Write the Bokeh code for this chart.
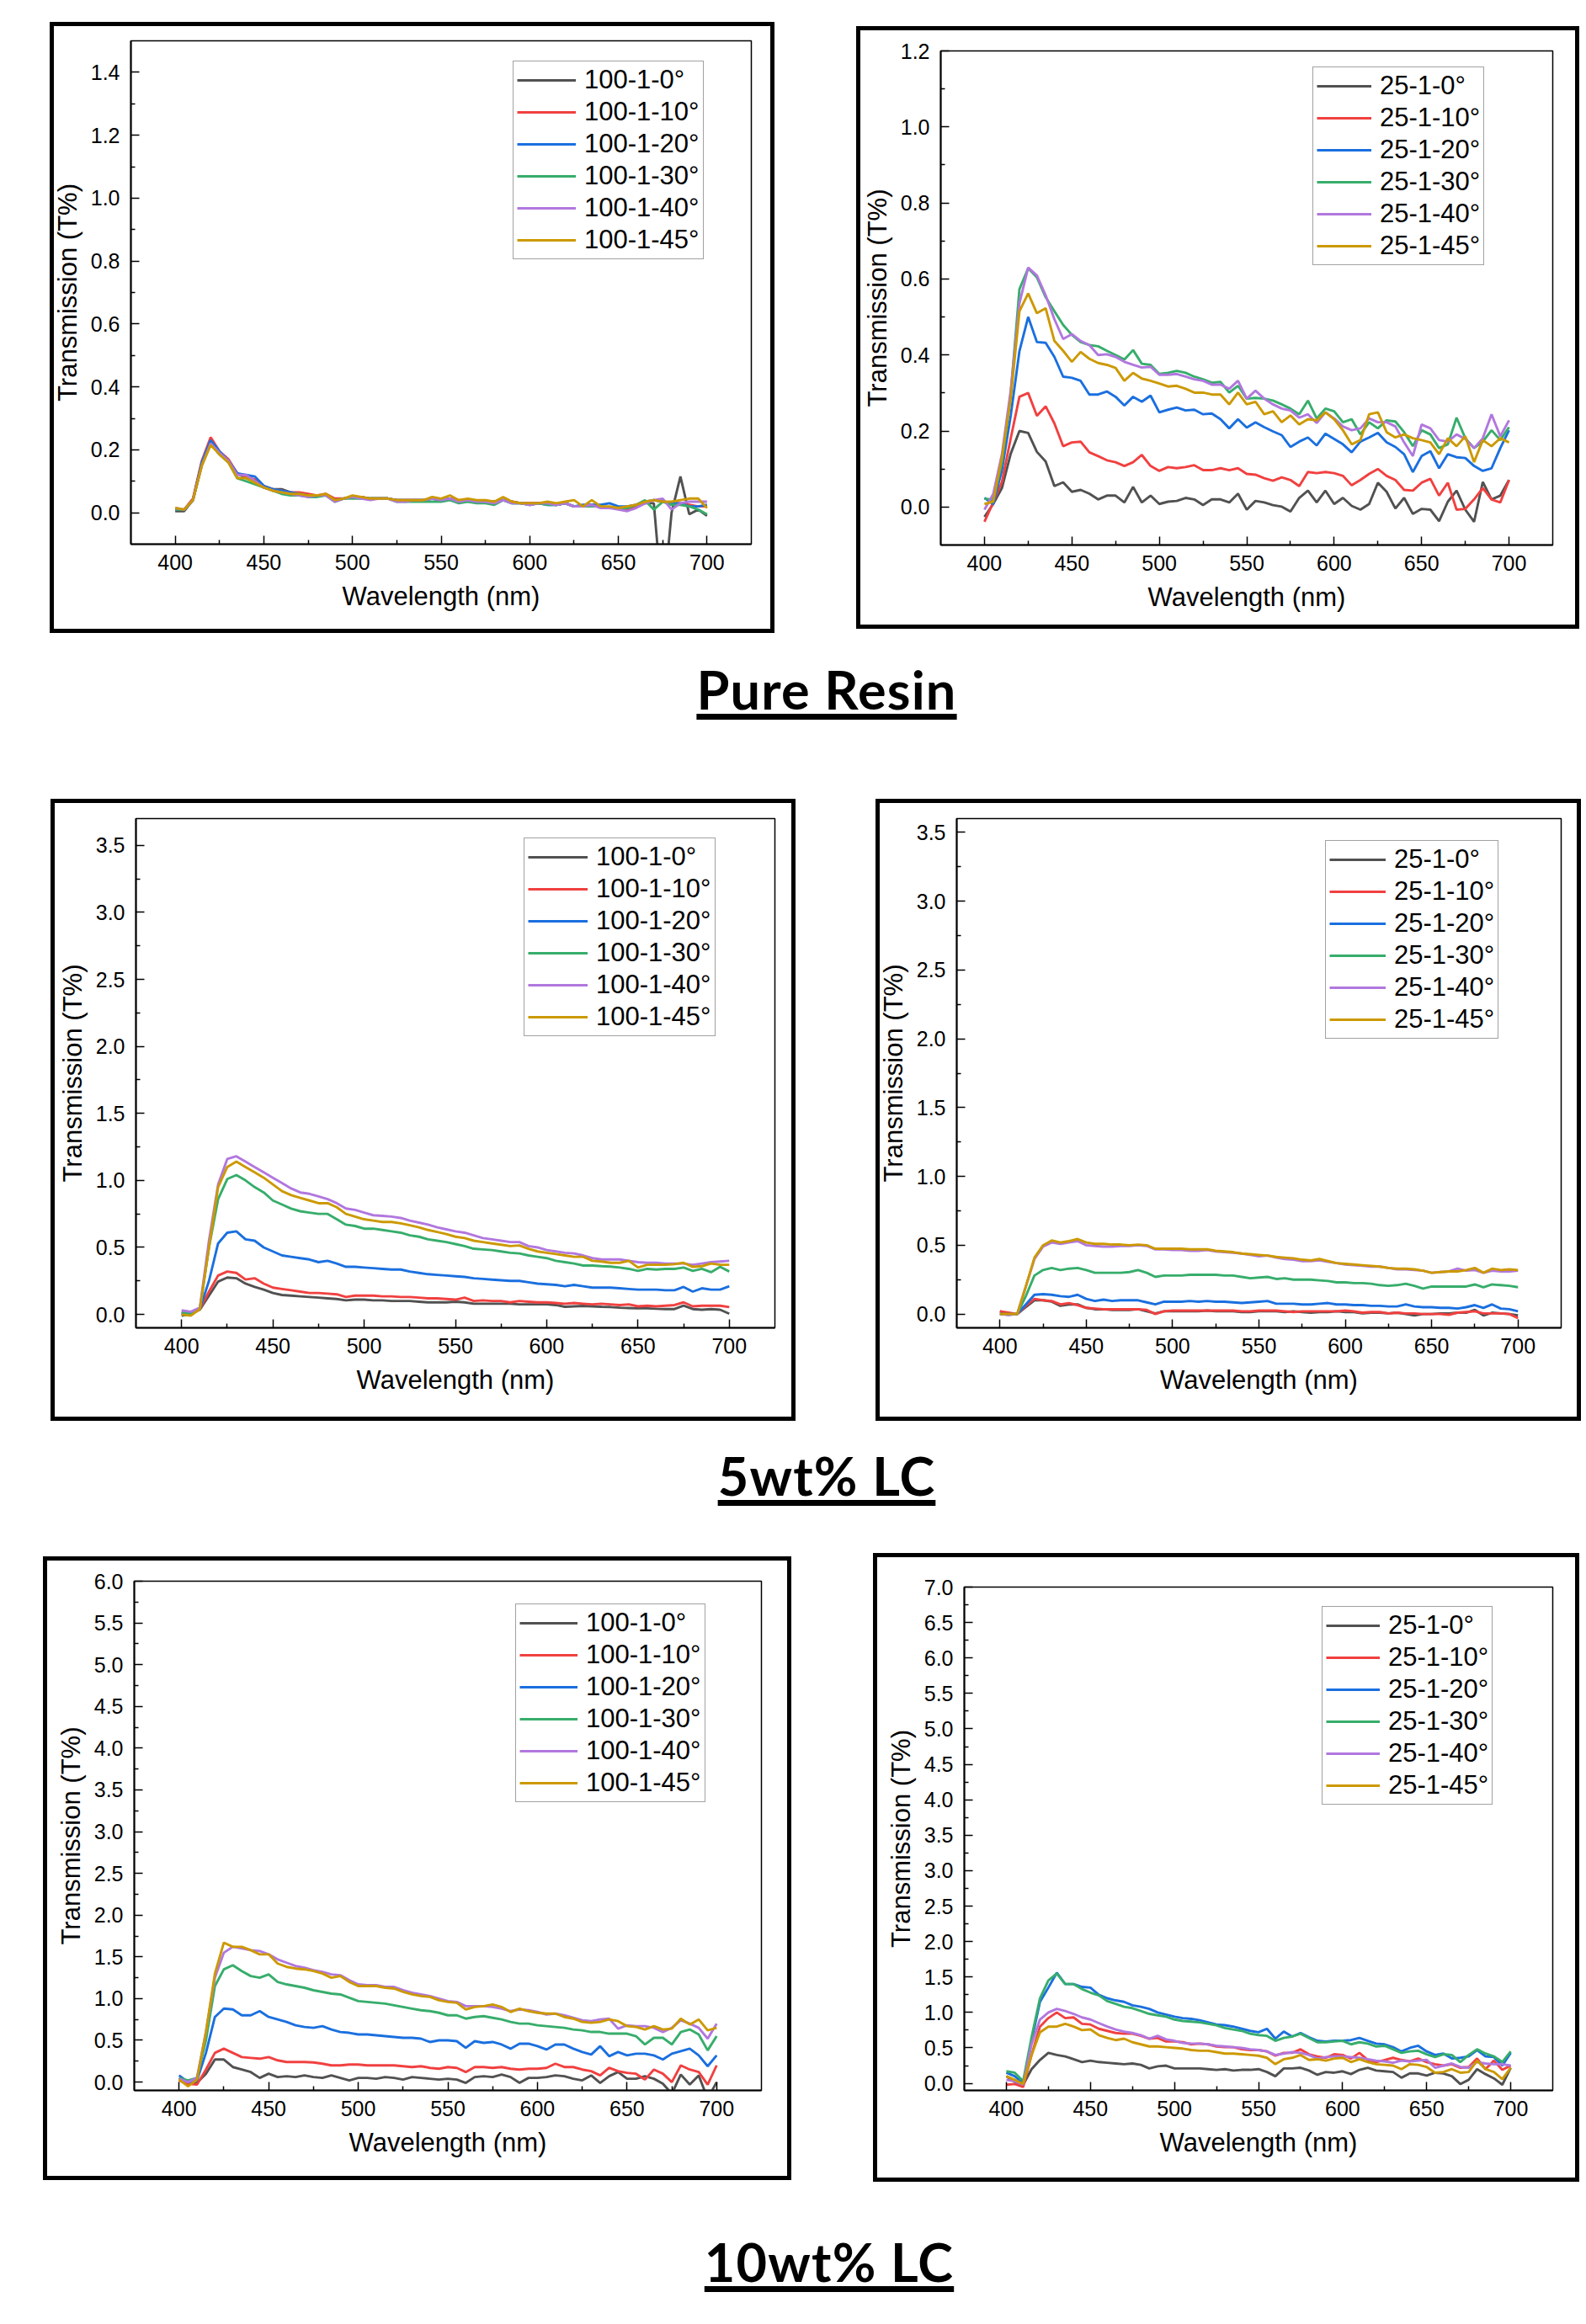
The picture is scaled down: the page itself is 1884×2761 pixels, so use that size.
from bokeh.plotting import figure
from bokeh.models import Range1d, FixedTicker, PrintfTickFormatter, Legend, LegendItem, Div, Spacer
from bokeh.layouts import row, column
from bokeh.embed import file_html
from bokeh.resources import INLINE

wavelength = list(range(400, 701, 5))
angles = ["0°", "10°", "20°", "30°", "40°", "45°"]
colors = ["#515151", "#F14040", "#1A6FDF", "#37AD6B", "#B177DE", "#CC9900"]
x_ticks = [400, 450, 500, 550, 600, 650, 700]
x_minor = [425, 475, 525, 575, 625, 675]

# ---------------- Pure resin, 100-1 ----------------
pr100_00 = [0.005, 0.005, 0.04, 0.16, 0.225, 0.19, 0.165, 0.125, 0.11, 0.10,
            0.08, 0.075, 0.075, 0.065, 0.06, 0.055, 0.055, 0.055, 0.04, 0.045,
            0.05, 0.05, 0.045, 0.045, 0.045, 0.04, 0.04, 0.04, 0.04, 0.045,
            0.04, 0.045, 0.035, 0.04, 0.035, 0.035, 0.035, 0.04, 0.035, 0.03,
            0.03, 0.03, 0.03, 0.025, 0.03, 0.02, 0.02, 0.025, 0.02, 0.015,
            0.015, 0.01, 0.02, 0.03, 0.03, -0.3, 0.0, 0.115, -0.005, 0.01,
            -0.01]
pr100_10 = [0.01, 0.01, 0.045, 0.165, 0.24, 0.195, 0.17, 0.125, 0.115, 0.105,
            0.085, 0.075, 0.07, 0.065, 0.065, 0.06, 0.055, 0.06, 0.045, 0.045,
            0.05, 0.05, 0.045, 0.045, 0.045, 0.04, 0.04, 0.04, 0.04, 0.045,
            0.04, 0.045, 0.04, 0.04, 0.035, 0.035, 0.035, 0.04, 0.035, 0.03,
            0.03, 0.03, 0.03, 0.025, 0.03, 0.02, 0.02, 0.025, 0.02, 0.015,
            0.015, 0.01, 0.02, 0.03, 0.04, 0.035, 0.03, 0.03, 0.025, 0.02,
            0.02]
pr100_20 = [0.01, 0.01, 0.04, 0.16, 0.23, 0.195, 0.165, 0.125, 0.12, 0.115,
            0.085, 0.075, 0.07, 0.065, 0.06, 0.055, 0.055, 0.055, 0.04, 0.045,
            0.05, 0.045, 0.045, 0.045, 0.045, 0.04, 0.04, 0.04, 0.04, 0.045,
            0.04, 0.045, 0.035, 0.04, 0.035, 0.035, 0.035, 0.04, 0.03, 0.03,
            0.025, 0.03, 0.025, 0.025, 0.03, 0.02, 0.025, 0.025, 0.025, 0.03,
            0.02, 0.02, 0.025, 0.035, 0.04, 0.035, 0.03, 0.03, 0.02, 0.02,
            0.025]
pr100_30 = [0.01, 0.01, 0.04, 0.15, 0.22, 0.185, 0.16, 0.11, 0.10, 0.09,
            0.08, 0.07, 0.06, 0.055, 0.055, 0.05, 0.05, 0.055, 0.035, 0.045,
            0.045, 0.045, 0.045, 0.045, 0.045, 0.035, 0.035, 0.035, 0.035, 0.035,
            0.035, 0.04, 0.03, 0.035, 0.03, 0.03, 0.025, 0.04, 0.03, 0.03,
            0.025, 0.03, 0.025, 0.025, 0.03, 0.02, 0.02, 0.02, 0.02, 0.015,
            0.015, 0.015, 0.025, 0.04, 0.01, 0.035, 0.025, 0.025, 0.02, 0.01,
            -0.005]
pr100_40 = [0.015, 0.01, 0.04, 0.15, 0.22, 0.19, 0.165, 0.12, 0.12, 0.10,
            0.08, 0.07, 0.065, 0.06, 0.055, 0.05, 0.055, 0.055, 0.035, 0.045,
            0.05, 0.045, 0.04, 0.045, 0.045, 0.035, 0.035, 0.04, 0.04, 0.045,
            0.04, 0.045, 0.035, 0.04, 0.035, 0.035, 0.03, 0.04, 0.03, 0.03,
            0.025, 0.03, 0.03, 0.025, 0.03, 0.02, 0.02, 0.025, 0.015, 0.015,
            0.01, 0.005, 0.015, 0.03, 0.04, 0.045, 0.01, 0.03, 0.035, 0.035,
            0.035]
pr100_45 = [0.015, 0.01, 0.04, 0.15, 0.215, 0.185, 0.16, 0.11, 0.11, 0.095,
            0.08, 0.07, 0.065, 0.06, 0.06, 0.055, 0.055, 0.06, 0.04, 0.045,
            0.055, 0.05, 0.045, 0.045, 0.045, 0.04, 0.04, 0.04, 0.04, 0.05,
            0.045, 0.055, 0.04, 0.045, 0.04, 0.04, 0.035, 0.05, 0.035, 0.03,
            0.03, 0.03, 0.035, 0.03, 0.035, 0.04, 0.02, 0.04, 0.02, 0.02,
            0.015, 0.02, 0.025, 0.035, 0.04, 0.035, 0.035, 0.04, 0.045, 0.045,
            0.015]

# ---------------- Pure resin, 25-1 ----------------
pr25_00 = [-0.026, 0.008, 0.05, 0.14, 0.20, 0.195, 0.145, 0.12, 0.055, 0.065,
           0.04, 0.045, 0.035, 0.02, 0.03, 0.03, 0.012, 0.053, 0.012, 0.03,
           0.008, 0.014, 0.016, 0.024, 0.02, 0.005, 0.02, 0.02, 0.012, 0.035,
           -0.007, 0.016, 0.012, 0.005, 0.001, -0.012, 0.024, 0.043, 0.012, 0.043,
           0.008, 0.024, 0.003, -0.007, 0.008, 0.064, 0.04, -0.004, 0.024, -0.018,
           -0.005, -0.007, -0.037, 0.014, 0.043, -0.007, -0.039, 0.066, 0.02, 0.03,
           0.071]
pr25_10 = [-0.039, 0.012, 0.066, 0.18, 0.29, 0.30, 0.24, 0.265, 0.22, 0.16,
           0.17, 0.172, 0.144, 0.134, 0.123, 0.118, 0.108, 0.118, 0.137, 0.108,
           0.095, 0.105, 0.102, 0.105, 0.11, 0.097, 0.097, 0.102, 0.097, 0.102,
           0.087, 0.085, 0.076, 0.069, 0.078, 0.071, 0.055, 0.092, 0.089, 0.092,
           0.089, 0.082, 0.057, 0.071, 0.087, 0.10, 0.082, 0.071, 0.045, 0.043,
           0.064, 0.074, 0.03, 0.064, -0.007, -0.005, 0.02, 0.05, 0.02, 0.012,
           0.071]
pr25_20 = [0.024, 0.008, 0.097, 0.24, 0.41, 0.50, 0.434, 0.432, 0.395, 0.343,
           0.34, 0.332, 0.296, 0.296, 0.304, 0.29, 0.267, 0.29, 0.277, 0.293,
           0.249, 0.256, 0.262, 0.254, 0.256, 0.244, 0.246, 0.231, 0.207, 0.231,
           0.209, 0.223, 0.21, 0.199, 0.189, 0.158, 0.172, 0.183, 0.162, 0.193,
           0.179, 0.165, 0.144, 0.172, 0.183, 0.195, 0.17, 0.158, 0.139, 0.092,
           0.134, 0.147, 0.102, 0.139, 0.131, 0.129, 0.108, 0.095, 0.102, 0.155,
           0.202]
pr25_30 = [0.022, 0.019, 0.118, 0.296, 0.573, 0.628, 0.604, 0.552, 0.515, 0.479,
           0.453, 0.434, 0.426, 0.423, 0.411, 0.40, 0.388, 0.413, 0.377, 0.374,
           0.35, 0.353, 0.358, 0.353, 0.343, 0.336, 0.327, 0.329, 0.301, 0.319,
           0.285, 0.287, 0.285, 0.28, 0.27, 0.259, 0.244, 0.28, 0.233, 0.259,
           0.252, 0.223, 0.231, 0.191, 0.223, 0.207, 0.228, 0.225, 0.197, 0.16,
           0.202, 0.191, 0.155, 0.165, 0.235, 0.181, 0.155, 0.172, 0.202, 0.176,
           0.21]
pr25_40 = [-0.007, 0.034, 0.139, 0.306, 0.536, 0.63, 0.609, 0.557, 0.494, 0.442,
           0.455, 0.437, 0.426, 0.40, 0.402, 0.395, 0.382, 0.374, 0.367, 0.369,
           0.348, 0.348, 0.35, 0.343, 0.336, 0.332, 0.322, 0.322, 0.311, 0.332,
           0.285, 0.306, 0.285, 0.27, 0.259, 0.254, 0.235, 0.244, 0.221, 0.249,
           0.233, 0.212, 0.202, 0.207, 0.233, 0.223, 0.223, 0.212, 0.17, 0.134,
           0.217, 0.207, 0.176, 0.172, 0.191, 0.179, 0.155, 0.181, 0.244, 0.186,
           0.228]
pr25_45 = [0.008, 0.014, 0.129, 0.285, 0.515, 0.562, 0.51, 0.523, 0.437, 0.411,
           0.382, 0.408, 0.39, 0.379, 0.374, 0.366, 0.332, 0.353, 0.338, 0.332,
           0.325, 0.317, 0.319, 0.311, 0.301, 0.301, 0.296, 0.296, 0.27, 0.301,
           0.27, 0.277, 0.244, 0.252, 0.223, 0.241, 0.217, 0.231, 0.228, 0.249,
           0.231, 0.202, 0.165, 0.176, 0.244, 0.249, 0.197, 0.183, 0.191, 0.181,
           0.176, 0.17, 0.139, 0.181, 0.16, 0.186, 0.118, 0.176, 0.16, 0.181,
           0.17]

# ---------------- 5wt% LC, 100-1 ----------------
lc5_100_00 = [-0.01, 0.005, 0.035, 0.14, 0.245, 0.275, 0.27, 0.23, 0.205, 0.185,
              0.16, 0.145, 0.14, 0.135, 0.13, 0.125, 0.12, 0.115, 0.105, 0.11,
              0.11, 0.105, 0.105, 0.10, 0.10, 0.10, 0.095, 0.09, 0.09, 0.09,
              0.095, 0.09, 0.08, 0.08, 0.08, 0.08, 0.08, 0.075, 0.075, 0.075,
              0.075, 0.07, 0.057, 0.06, 0.063, 0.06, 0.057, 0.055, 0.05, 0.048,
              0.045, 0.045, 0.042, 0.04, 0.04, 0.065, 0.04, 0.035, 0.04, 0.035,
              0.005]
lc5_100_10 = [0.01, 0.0, 0.04, 0.17, 0.29, 0.32, 0.31, 0.26, 0.27, 0.23,
              0.20, 0.19, 0.18, 0.17, 0.16, 0.16, 0.155, 0.15, 0.13, 0.14,
              0.14, 0.14, 0.135, 0.135, 0.13, 0.13, 0.125, 0.12, 0.12, 0.115,
              0.11, 0.125, 0.10, 0.105, 0.10, 0.10, 0.09, 0.10, 0.095, 0.09,
              0.09, 0.085, 0.08, 0.085, 0.08, 0.075, 0.08, 0.075, 0.07, 0.075,
              0.06, 0.065, 0.06, 0.065, 0.07, 0.09, 0.06, 0.065, 0.065, 0.065,
              0.055]
lc5_100_20 = [0.01, 0.005, 0.04, 0.25, 0.53, 0.61, 0.62, 0.56, 0.55, 0.50,
              0.47, 0.44, 0.43, 0.42, 0.41, 0.39, 0.40, 0.38, 0.355, 0.355,
              0.35, 0.345, 0.34, 0.335, 0.335, 0.32, 0.31, 0.30, 0.295, 0.29,
              0.285, 0.28, 0.27, 0.265, 0.26, 0.255, 0.25, 0.25, 0.24, 0.23,
              0.225, 0.22, 0.21, 0.22, 0.21, 0.20, 0.20, 0.20, 0.195, 0.19,
              0.185, 0.185, 0.185, 0.18, 0.18, 0.205, 0.17, 0.195, 0.185, 0.185,
              0.21]
lc5_100_30 = [0.02, 0.0, 0.04, 0.50, 0.86, 1.01, 1.04, 1.0, 0.95, 0.91,
              0.85, 0.82, 0.79, 0.77, 0.76, 0.75, 0.75, 0.71, 0.67, 0.66,
              0.64, 0.64, 0.63, 0.62, 0.61, 0.59, 0.58, 0.56, 0.55, 0.54,
              0.525, 0.51, 0.49, 0.485, 0.48, 0.47, 0.46, 0.455, 0.44, 0.43,
              0.42, 0.40, 0.39, 0.38, 0.365, 0.365, 0.36, 0.357, 0.35, 0.34,
              0.325, 0.34, 0.335, 0.34, 0.34, 0.35, 0.325, 0.34, 0.315, 0.355,
              0.32]
lc5_100_40 = [0.03, 0.02, 0.05, 0.55, 0.97, 1.16, 1.18, 1.14, 1.10, 1.06,
              1.02, 0.98, 0.94, 0.91, 0.90, 0.88, 0.86, 0.83, 0.79, 0.78,
              0.76, 0.74, 0.735, 0.73, 0.72, 0.70, 0.685, 0.67, 0.65, 0.635,
              0.62, 0.61, 0.59, 0.57, 0.56, 0.55, 0.54, 0.54, 0.51, 0.50,
              0.48, 0.47, 0.46, 0.455, 0.44, 0.42, 0.41, 0.41, 0.41, 0.40,
              0.39, 0.385, 0.385, 0.38, 0.38, 0.38, 0.37, 0.38, 0.39, 0.395,
              0.40]
lc5_100_45 = [0.0, -0.01, 0.04, 0.50, 0.95, 1.10, 1.14, 1.10, 1.06, 1.02,
              0.97, 0.92, 0.89, 0.87, 0.85, 0.83, 0.83, 0.80, 0.75, 0.73,
              0.71, 0.70, 0.69, 0.69, 0.68, 0.665, 0.65, 0.63, 0.615, 0.60,
              0.58, 0.57, 0.55, 0.54, 0.53, 0.52, 0.51, 0.515, 0.49, 0.47,
              0.46, 0.45, 0.44, 0.43, 0.43, 0.40, 0.395, 0.385, 0.385, 0.40,
              0.35, 0.37, 0.37, 0.37, 0.375, 0.385, 0.355, 0.36, 0.38, 0.37,
              0.37]

# ---------------- 5wt% LC, 25-1 ----------------
lc5_25_00 = [0.02, 0.0, 0.0, 0.05, 0.10, 0.10, 0.09, 0.06, 0.07, 0.07,
             0.045, 0.035, 0.035, 0.03, 0.03, 0.03, 0.035, 0.02, 0.005, 0.02,
             0.02, 0.02, 0.02, 0.02, 0.025, 0.02, 0.02, 0.02, 0.015, 0.015,
             0.02, 0.02, 0.02, 0.015, 0.02, 0.015, 0.01, 0.015, 0.015, 0.02,
             0.015, 0.015, 0.005, 0.01, 0.01, 0.005, 0.01, 0.0, -0.01, 0.0,
             0.0, 0.005, 0.005, 0.01, 0.01, 0.03, -0.01, 0.01, 0.005, 0.0,
             -0.01]
lc5_25_10 = [0.02, 0.01, 0.0, 0.06, 0.11, 0.10, 0.095, 0.07, 0.08, 0.065,
             0.045, 0.04, 0.035, 0.035, 0.035, 0.035, 0.035, 0.03, 0.0, 0.02,
             0.025, 0.025, 0.025, 0.025, 0.025, 0.025, 0.025, 0.025, 0.02, 0.02,
             0.025, 0.025, 0.025, 0.02, 0.015, 0.02, 0.02, 0.02, 0.02, 0.02,
             0.025, 0.02, 0.01, 0.015, 0.015, 0.005, 0.01, 0.005, 0.005, 0.0,
             0.0, 0.0, -0.005, 0.01, 0.015, 0.02, 0.005, 0.005, 0.005, 0.0,
             -0.03]
lc5_25_20 = [0.0, -0.005, 0.0, 0.07, 0.14, 0.145, 0.14, 0.13, 0.125, 0.14,
             0.11, 0.095, 0.105, 0.095, 0.10, 0.10, 0.10, 0.085, 0.07, 0.09,
             0.09, 0.09, 0.095, 0.09, 0.095, 0.09, 0.09, 0.085, 0.08, 0.085,
             0.09, 0.095, 0.075, 0.075, 0.075, 0.07, 0.07, 0.075, 0.08, 0.07,
             0.07, 0.065, 0.065, 0.06, 0.06, 0.055, 0.055, 0.07, 0.055, 0.05,
             0.05, 0.045, 0.045, 0.04, 0.05, 0.065, 0.045, 0.07, 0.04, 0.035,
             0.02]
lc5_25_30 = [0.0, 0.0, 0.0, 0.13, 0.28, 0.32, 0.335, 0.32, 0.33, 0.335,
             0.32, 0.30, 0.30, 0.30, 0.30, 0.305, 0.32, 0.30, 0.27, 0.28,
             0.28, 0.28, 0.285, 0.285, 0.285, 0.285, 0.28, 0.28, 0.27, 0.26,
             0.265, 0.27, 0.255, 0.26, 0.25, 0.25, 0.25, 0.245, 0.24, 0.23,
             0.23, 0.225, 0.225, 0.22, 0.21, 0.205, 0.21, 0.22, 0.205, 0.185,
             0.20, 0.20, 0.20, 0.20, 0.20, 0.215, 0.195, 0.215, 0.21, 0.205,
             0.195]
lc5_25_40 = [0.0, -0.005, 0.0, 0.20, 0.40, 0.49, 0.52, 0.51, 0.52, 0.53,
             0.50, 0.495, 0.49, 0.49, 0.495, 0.495, 0.50, 0.495, 0.47, 0.47,
             0.465, 0.465, 0.46, 0.46, 0.465, 0.455, 0.45, 0.445, 0.44, 0.43,
             0.42, 0.425, 0.41, 0.40, 0.395, 0.385, 0.385, 0.39, 0.38, 0.37,
             0.36, 0.355, 0.35, 0.345, 0.345, 0.335, 0.325, 0.325, 0.32, 0.315,
             0.30, 0.305, 0.31, 0.33, 0.315, 0.32, 0.30, 0.315, 0.31, 0.31,
             0.315]
lc5_25_45 = [0.0, 0.0, 0.0, 0.20, 0.41, 0.50, 0.535, 0.52, 0.53, 0.545,
             0.52, 0.51, 0.51, 0.505, 0.505, 0.50, 0.505, 0.50, 0.475, 0.475,
             0.475, 0.475, 0.47, 0.47, 0.47, 0.46, 0.455, 0.45, 0.44, 0.435,
             0.43, 0.425, 0.415, 0.41, 0.405, 0.395, 0.39, 0.40, 0.385, 0.37,
             0.365, 0.36, 0.355, 0.35, 0.345, 0.335, 0.33, 0.33, 0.325, 0.315,
             0.30, 0.305, 0.31, 0.31, 0.32, 0.335, 0.30, 0.33, 0.32, 0.325,
             0.32]

# ---------------- 10wt% LC, 100-1 ----------------
lc10_100_00 = [0.05, -0.02, -0.01, 0.10, 0.27, 0.27, 0.18, 0.15, 0.12, 0.05,
               0.10, 0.06, 0.07, 0.06, 0.08, 0.06, 0.05, 0.08, 0.05, 0.02,
               0.05, 0.05, 0.04, 0.06, 0.05, 0.03, 0.06, 0.05, 0.04, 0.03,
               0.04, 0.03, -0.01, 0.06, 0.07, 0.06, 0.09, 0.06, -0.01, 0.05,
               0.05, 0.06, 0.08, 0.07, 0.04, 0.02, 0.08, -0.01, 0.07, 0.12,
               0.04, 0.04, 0.07, 0.04, -0.02, -0.14, 0.09, -0.03, 0.08, -0.20,
               0.0]
lc10_100_10 = [0.02, -0.02, -0.03, 0.15, 0.35, 0.40, 0.35, 0.30, 0.29, 0.28,
               0.30, 0.26, 0.24, 0.24, 0.24, 0.235, 0.22, 0.20, 0.20, 0.21,
               0.21, 0.20, 0.20, 0.20, 0.20, 0.19, 0.18, 0.19, 0.17, 0.16,
               0.18, 0.17, 0.12, 0.18, 0.18, 0.17, 0.18, 0.16, 0.15, 0.16,
               0.16, 0.17, 0.22, 0.18, 0.18, 0.15, 0.13, 0.08, 0.17, 0.13,
               0.11, 0.10, 0.03, 0.15, 0.10, 0.0, 0.20, 0.15, 0.12, -0.03,
               0.20]
lc10_100_20 = [0.08, 0.0, 0.02, 0.35, 0.78, 0.88, 0.87, 0.80, 0.80, 0.85,
               0.78, 0.75, 0.72, 0.68, 0.66, 0.65, 0.67, 0.63, 0.60, 0.59,
               0.57, 0.57, 0.56, 0.55, 0.54, 0.53, 0.53, 0.52, 0.48, 0.50,
               0.50, 0.49, 0.41, 0.49, 0.47, 0.48, 0.45, 0.40, 0.46, 0.46,
               0.43, 0.39, 0.45, 0.45, 0.40, 0.36, 0.33, 0.43, 0.31, 0.36,
               0.32, 0.34, 0.34, 0.32, 0.27, 0.34, 0.37, 0.40, 0.32, 0.19,
               0.32]
lc10_100_30 = [0.05, 0.02, 0.05, 0.50, 1.15, 1.35, 1.40, 1.33, 1.27, 1.25,
               1.29, 1.20, 1.17, 1.15, 1.13, 1.10, 1.08, 1.06, 1.05, 1.01,
               0.97, 0.96, 0.95, 0.94, 0.92, 0.90, 0.88, 0.86, 0.85, 0.83,
               0.80, 0.80, 0.76, 0.78, 0.79, 0.77, 0.75, 0.72, 0.70, 0.70,
               0.68, 0.67, 0.66, 0.65, 0.63, 0.62, 0.60, 0.60, 0.58, 0.58,
               0.58, 0.55, 0.45, 0.53, 0.53, 0.45, 0.60, 0.63, 0.57, 0.38,
               0.55]
lc10_100_40 = [0.04, 0.0, 0.05, 0.60, 1.25, 1.55, 1.62, 1.60, 1.58, 1.57,
               1.53, 1.47, 1.43, 1.39, 1.37, 1.34, 1.32, 1.29, 1.28, 1.22,
               1.17, 1.16, 1.16, 1.14, 1.14, 1.10, 1.07, 1.05, 1.03, 1.00,
               0.97, 0.96, 0.91, 0.91, 0.91, 0.90, 0.88, 0.85, 0.87, 0.86,
               0.84, 0.81, 0.82, 0.80, 0.77, 0.74, 0.73, 0.75, 0.76, 0.64,
               0.68, 0.67, 0.67, 0.65, 0.60, 0.65, 0.74, 0.70, 0.65, 0.52,
               0.70]
lc10_100_45 = [0.03, -0.05, 0.03, 0.60, 1.30, 1.67, 1.62, 1.62, 1.58, 1.53,
               1.53, 1.42, 1.38, 1.36, 1.35, 1.33, 1.30, 1.25, 1.27, 1.20,
               1.15, 1.15, 1.15, 1.13, 1.12, 1.08, 1.05, 1.03, 1.02, 0.98,
               0.96, 0.95, 0.87, 0.90, 0.91, 0.93, 0.90, 0.84, 0.88, 0.85,
               0.83, 0.82, 0.82, 0.78, 0.76, 0.72, 0.71, 0.72, 0.75, 0.73,
               0.67, 0.66, 0.63, 0.67, 0.63, 0.64, 0.76, 0.69, 0.75, 0.62,
               0.65]

# ---------------- 10wt% LC, 25-1 ----------------
lc10_25_00 = [0.10, 0.02, -0.02, 0.20, 0.33, 0.43, 0.40, 0.38, 0.34, 0.30,
              0.32, 0.30, 0.29, 0.28, 0.27, 0.28, 0.26, 0.21, 0.24, 0.25,
              0.21, 0.21, 0.21, 0.21, 0.20, 0.19, 0.20, 0.18, 0.19, 0.19,
              0.20, 0.16, 0.10, 0.21, 0.21, 0.22, 0.18, 0.12, 0.16, 0.15,
              0.17, 0.13, 0.19, 0.22, 0.18, 0.17, 0.16, 0.08, 0.14, 0.14,
              0.11, 0.15, 0.14, 0.10, -0.01, 0.05, 0.20, 0.13, 0.07, -0.02,
              0.22]
lc10_25_10 = [-0.02, -0.01, -0.05, 0.40, 0.80, 0.92, 1.00, 0.92, 0.93, 0.84,
              0.83, 0.77, 0.74, 0.71, 0.70, 0.70, 0.67, 0.63, 0.64, 0.59,
              0.59, 0.58, 0.55, 0.56, 0.55, 0.52, 0.51, 0.51, 0.48, 0.47,
              0.47, 0.45, 0.39, 0.43, 0.43, 0.48, 0.41, 0.38, 0.36, 0.41,
              0.40, 0.35, 0.43, 0.33, 0.30, 0.33, 0.36, 0.33, 0.31, 0.35,
              0.30, 0.27, 0.25, 0.27, 0.22, 0.23, 0.35, 0.20, 0.32, 0.19,
              0.25]
lc10_25_20 = [0.15, 0.10, 0.0, 0.60, 1.15, 1.35, 1.56, 1.40, 1.40, 1.36,
              1.35, 1.25, 1.20, 1.17, 1.15, 1.10, 1.08, 1.05, 1.00, 0.97,
              0.94, 0.92, 0.91, 0.89, 0.86, 0.83, 0.82, 0.80, 0.77, 0.74,
              0.72, 0.77, 0.63, 0.73, 0.66, 0.71, 0.65, 0.60, 0.59, 0.60,
              0.60, 0.61, 0.64, 0.60, 0.56, 0.55, 0.51, 0.45, 0.50, 0.53,
              0.45, 0.40, 0.42, 0.35, 0.36, 0.38, 0.47, 0.38, 0.37, 0.25,
              0.43]
lc10_25_30 = [0.17, 0.15, 0.03, 0.65, 1.20, 1.45, 1.55, 1.40, 1.40, 1.33,
              1.28, 1.24, 1.16, 1.12, 1.08, 1.06, 1.02, 0.98, 0.96, 0.94,
              0.90, 0.88, 0.87, 0.86, 0.84, 0.82, 0.78, 0.76, 0.74, 0.70,
              0.68, 0.67, 0.60, 0.64, 0.66, 0.70, 0.64, 0.58, 0.58, 0.59,
              0.60, 0.55, 0.58, 0.56, 0.52, 0.53, 0.48, 0.43, 0.45, 0.46,
              0.41, 0.37, 0.41, 0.40, 0.30, 0.40, 0.48, 0.42, 0.38, 0.30,
              0.45]
lc10_25_40 = [0.05, 0.03, -0.02, 0.55, 0.90, 1.00, 1.05, 1.02, 0.98, 0.93,
              0.90, 0.85, 0.80, 0.76, 0.73, 0.71, 0.68, 0.63, 0.67, 0.62,
              0.60, 0.57, 0.56, 0.56, 0.55, 0.53, 0.52, 0.51, 0.50, 0.48,
              0.47, 0.45, 0.40, 0.42, 0.44, 0.43, 0.40, 0.35, 0.37, 0.38,
              0.38, 0.37, 0.36, 0.34, 0.32, 0.31, 0.29, 0.32, 0.31, 0.32,
              0.33, 0.22, 0.25, 0.28, 0.23, 0.22, 0.30, 0.28, 0.27, 0.27,
              0.25]
lc10_25_45 = [0.10, 0.05, -0.01, 0.40, 0.72, 0.80, 0.80, 0.84, 0.80, 0.75,
              0.76, 0.68, 0.64, 0.61, 0.63, 0.58, 0.55, 0.52, 0.52, 0.51,
              0.50, 0.49, 0.47, 0.46, 0.46, 0.44, 0.42, 0.42, 0.41, 0.40,
              0.39, 0.36, 0.27, 0.34, 0.36, 0.40, 0.33, 0.34, 0.32, 0.35,
              0.36, 0.30, 0.34, 0.30, 0.27, 0.26, 0.25, 0.20, 0.27, 0.26,
              0.23, 0.15, 0.16, 0.20, 0.15, 0.16, 0.32, 0.20, 0.16, 0.06,
              0.22]

# y tick values per panel
pr100_yticks = [0.0, 0.2, 0.4, 0.6, 0.8, 1.0, 1.2, 1.4]
pr25_yticks = [0.0, 0.2, 0.4, 0.6, 0.8, 1.0, 1.2]
lc5_100_yticks = [0.0, 0.5, 1.0, 1.5, 2.0, 2.5, 3.0, 3.5]
lc5_25_yticks = [0.0, 0.5, 1.0, 1.5, 2.0, 2.5, 3.0, 3.5]
lc10_100_yticks = [0.0, 0.5, 1.0, 1.5, 2.0, 2.5, 3.0, 3.5, 4.0, 4.5, 5.0, 5.5, 6.0]
lc10_25_yticks = [0.0, 0.5, 1.0, 1.5, 2.0, 2.5, 3.0, 3.5, 4.0, 4.5, 5.0, 5.5, 6.0, 6.5, 7.0]

titles = ["Pure Resin", "5wt% LC", "10wt% LC"]

AX_FONT = "Liberation Sans"


def make_panel(width, height, borders, y_end, y_ticks, series, prefix, legend_xy, glyph_width):
    left, top, right, bottom = borders
    for s in series:
        assert len(s) == len(wavelength), (prefix, len(s))
    p = figure(width=width, height=height,
               x_range=Range1d(375, 725), y_range=Range1d(-0.1, y_end),
               output_backend="svg", toolbar_location=None,
               min_border_left=left, min_border_top=top,
               min_border_right=right, min_border_bottom=bottom)
    p.border_fill_color = None
    p.background_fill_color = "white"
    p.outline_line_color = "black"
    p.outline_line_width = 1.5
    p.grid.visible = False
    p.styles = {"background-color": "white",
                "box-shadow": "inset 0 0 0 5px #000000"}

    step = y_ticks[1] - y_ticks[0]
    y_minor = [t + step / 2 for t in y_ticks if t + step / 2 < y_end]

    p.xaxis.ticker = FixedTicker(ticks=x_ticks, minor_ticks=x_minor)
    p.yaxis.ticker = FixedTicker(ticks=y_ticks, minor_ticks=y_minor)
    p.yaxis.formatter = PrintfTickFormatter(format="%.1f")
    p.xaxis.axis_label = "Wavelength (nm)"
    p.yaxis.axis_label = "Transmission (T%)"
    for ax in (p.xaxis, p.yaxis):
        ax.major_tick_in = 10
        ax.major_tick_out = 0
        ax.minor_tick_in = 5
        ax.minor_tick_out = 0
        ax.major_tick_line_width = 1.5
        ax.minor_tick_line_width = 1.5
        ax.axis_line_width = 2
        ax.axis_line_color = "black"
        ax.major_tick_line_color = "black"
        ax.minor_tick_line_color = "black"
        ax.major_label_text_font = AX_FONT
        ax.major_label_text_font_size = "25px"
        ax.major_label_text_color = "black"
        ax.axis_label_text_font = AX_FONT
        ax.axis_label_text_font_size = "31px"
        ax.axis_label_text_font_style = "normal"
        ax.axis_label_text_color = "black"
    p.xaxis.major_label_standoff = 12
    p.yaxis.major_label_standoff = 13
    p.xaxis.axis_label_standoff = 11
    p.yaxis.axis_label_standoff = 7

    items = []
    for ys, c, a in zip(series, colors, angles):
        r = p.line(wavelength, ys, line_color=c, line_width=2.9)
        items.append(LegendItem(label=f"{prefix}-{a}", renderers=[r]))
    legend = Legend(items=items, location=legend_xy, margin=0, padding=4,
                    spacing=2, glyph_height=34, label_height=34,
                    glyph_width=glyph_width, label_standoff=10,
                    label_text_font=AX_FONT, label_text_font_size="31px",
                    label_text_color="black",
                    border_line_color="#444444", border_line_width=1.5,
                    background_fill_color="white", background_fill_alpha=1.0)
    p.add_layout(legend)
    return p


def title_div(text, pad_top, height):
    html = ('<div style="display: block; width: 600px; font-family: Lato; font-weight: bold; '
            'font-size: 63px; letter-spacing: 1.2px; line-height: 74px; padding-top: %dpx; '
            'text-align: center; color: #000; white-space: nowrap; '
            'text-decoration: underline; text-decoration-thickness: 7px; '
            'text-underline-offset: 5px;">%s</div>' % (pad_top, text))
    return Div(text=html, width=600, height=height, margin=0)


p1 = make_panel(861, 726, (89, 22, 28, 106), 1.5, pr100_yticks,
                [pr100_00, pr100_10, pr100_20, pr100_30, pr100_40, pr100_45],
                "100-1", (454, 338), 70)
p2 = make_panel(859, 716, (100, 29, 32, 100), 1.2, pr25_yticks,
                [pr25_00, pr25_10, pr25_20, pr25_30, pr25_40, pr25_45],
                "25-1", (442, 332), 65)
p3 = make_panel(885, 739, (101, 23, 25, 104), 3.7, lc5_100_yticks,
                [lc5_100_00, lc5_100_10, lc5_100_20, lc5_100_30, lc5_100_40, lc5_100_45],
                "100-1", (461, 346), 71)
p4 = make_panel(838, 739, (95, 23, 24, 111), 3.6, lc5_25_yticks,
                [lc5_25_00, lc5_25_10, lc5_25_20, lc5_25_30, lc5_25_40, lc5_25_45],
                "25-1", (438, 343), 67)
p5 = make_panel(889, 741, (108, 29, 36, 107), 6.0, lc10_100_yticks,
                [lc10_100_00, lc10_100_10, lc10_100_20, lc10_100_30, lc10_100_40, lc10_100_45],
                "100-1", (453, 342), 69)
p6 = make_panel(839, 747, (108, 40, 32, 109), 7.0, lc10_25_yticks,
                [lc10_25_00, lc10_25_10, lc10_25_20, lc10_25_30, lc10_25_40, lc10_25_45],
                "25-1", (425, 339), 64)

row1 = row(Spacer(width=59), column(Spacer(height=26), p1), Spacer(width=97),
           column(Spacer(height=31), p2))
t1 = row(Spacer(width=682), title_div(titles[0], 30, 197))
row2 = row(Spacer(width=60), p3, Spacer(width=95), p4)
t2 = row(Spacer(width=682), title_div(titles[1], 28, 157))
row3 = row(Spacer(width=51), column(Spacer(height=4), p5), Spacer(width=97), p6)
t3 = row(Spacer(width=685), title_div(titles[2], 58, 140))

layout = column(row1, t1, row2, t2, row3, t3)

open("out.html", "w").write(file_html(layout, INLINE))
